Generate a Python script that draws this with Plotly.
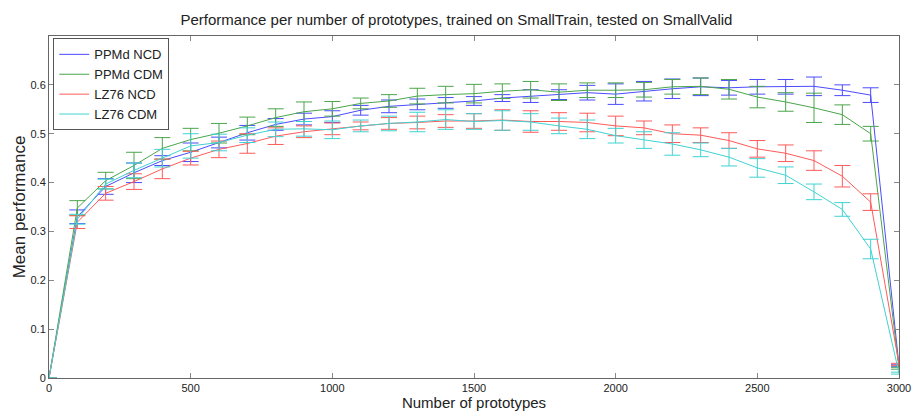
import plotly.graph_objects as go

x_vals = list(range(0, 3001, 100))

ppmd_ncd = [0, 0.33, 0.392, 0.42, 0.445, 0.462, 0.482, 0.502, 0.519, 0.53, 0.535,
            0.548, 0.556, 0.56, 0.563, 0.567, 0.573, 0.577, 0.58, 0.584, 0.581,
            0.587, 0.592, 0.596, 0.594, 0.596, 0.596, 0.597, 0.589, 0.579, 0.025]
ppmd_ncd_err = [None, 0.014, 0.016, 0.02, 0.01, 0.019, 0.011, 0.015, 0.012, 0.012, 0.012,
                0.01, 0.013, 0.011, 0.011, 0.009, 0.007, 0.013, 0.01, 0.015, 0.021,
                0.02, 0.02, 0.018, 0.015, 0.015, 0.015, 0.019, 0.011, 0.015, 0.002]

ppmd_cdm = [0, 0.348, 0.404, 0.435, 0.47, 0.488, 0.501, 0.516, 0.533, 0.545, 0.551,
            0.562, 0.567, 0.577, 0.58, 0.582, 0.587, 0.59, 0.585, 0.589, 0.589,
            0.59, 0.596, 0.597, 0.591, 0.575, 0.565, 0.553, 0.539, 0.5, 0.02]
ppmd_cdm_err = [None, 0.015, 0.017, 0.027, 0.022, 0.023, 0.02, 0.018, 0.018, 0.02, 0.015,
                0.011, 0.013, 0.016, 0.017, 0.019, 0.015, 0.017, 0.017, 0.015, 0.015,
                0.015, 0.015, 0.017, 0.02, 0.022, 0.019, 0.03, 0.02, 0.015, 0.002]

lz76_ncd = [0, 0.319, 0.378, 0.402, 0.428, 0.45, 0.468, 0.48, 0.495, 0.504, 0.51,
            0.516, 0.521, 0.523, 0.526, 0.526, 0.528, 0.525, 0.525, 0.523, 0.516,
            0.512, 0.5, 0.497, 0.486, 0.469, 0.46, 0.445, 0.413, 0.36, 0.028]
lz76_ncd_err = [None, 0.013, 0.014, 0.016, 0.02, 0.014, 0.017, 0.02, 0.017, 0.012, 0.012,
                0.008, 0.012, 0.013, 0.013, 0.015, 0.021, 0.022, 0.018, 0.019, 0.02,
                0.014, 0.018, 0.015, 0.016, 0.017, 0.017, 0.02, 0.022, 0.017, 0.002]

lz76_cdm = [0, 0.325, 0.397, 0.425, 0.45, 0.475, 0.482, 0.497, 0.509, 0.51, 0.508,
            0.516, 0.521, 0.524, 0.529, 0.525, 0.527, 0.524, 0.516, 0.509, 0.496,
            0.487, 0.479, 0.467, 0.452, 0.43, 0.415, 0.381, 0.345, 0.264, 0.01]
lz76_cdm_err = [None, 0.01, 0.01, 0.015, 0.018, 0.025, 0.017, 0.015, 0.015, 0.015, 0.018,
                0.012, 0.015, 0.02, 0.02, 0.016, 0.02, 0.017, 0.016, 0.019, 0.015,
                0.017, 0.023, 0.014, 0.018, 0.019, 0.017, 0.016, 0.014, 0.02, 0.002]

series_names = ["PPMd NCD", "PPMd CDM", "LZ76 NCD", "LZ76 CDM"]
series_vals = [ppmd_ncd, ppmd_cdm, lz76_ncd, lz76_cdm]
series_errs = [ppmd_ncd_err, ppmd_cdm_err, lz76_ncd_err, lz76_cdm_err]
colors = ["rgb(75,75,255)", "rgb(75,165,75)", "rgb(255,90,90)", "rgb(65,210,210)"]

x_ticks = [0, 500, 1000, 1500, 2000, 2500, 3000]
y_ticks = [0, 0.1, 0.2, 0.3, 0.4, 0.5, 0.6]
y_tick_text = ["0", "0.1", "0.2", "0.3", "0.4", "0.5", "0.6"]

fig = go.Figure()
for name, vals, errs, col in zip(series_names, series_vals, series_errs, colors):
    fig.add_trace(go.Scatter(
        x=x_vals, y=vals, name=name, mode="lines",
        line=dict(color=col, width=1),
        error_y=dict(type="data", array=errs, visible=True, color=col,
                     thickness=1, width=8),
    ))

font_family = "Liberation Sans, Arial, sans-serif"
fig.update_layout(
    width=913, height=412,
    margin=dict(l=49, r=14, t=36, b=34, autoexpand=False),
    paper_bgcolor="white", plot_bgcolor="white",
    font=dict(family=font_family, size=12, color="#222"),
    title=dict(text="Performance per number of prototypes, trained on SmallTrain, tested on SmallValid",
               x=0.5, xanchor="center", y=1 - 20 / 412, yanchor="middle",
               font=dict(size=15, color="#222")),
    showlegend=True,
    legend=dict(x=0.005, y=0.993, xanchor="left", yanchor="top",
                bgcolor="white", bordercolor="#555", borderwidth=1,
                font=dict(size=13, color="#222"), tracegroupgap=0,
                itemwidth=30),
    xaxis=dict(range=[0, 3000], tickvals=x_ticks, ticks="inside", ticklen=5,
               tickcolor="#888", showline=True, linecolor="#666", linewidth=1,
               mirror="ticks", showgrid=False, zeroline=False, automargin=False,
               tickfont=dict(size=11),
               title=dict(text="Number of prototypes", font=dict(size=15), standoff=3)),
    yaxis=dict(range=[0, 0.7], tickvals=y_ticks, ticktext=y_tick_text, ticks="inside",
               ticklen=5, tickcolor="#888", showline=True, linecolor="#666", linewidth=1,
               mirror="ticks", showgrid=False, zeroline=False, automargin=False,
               tickfont=dict(size=11),
               title=dict(text="Mean performance", font=dict(size=17), standoff=0)),
)

fig.write_html("out.html")
